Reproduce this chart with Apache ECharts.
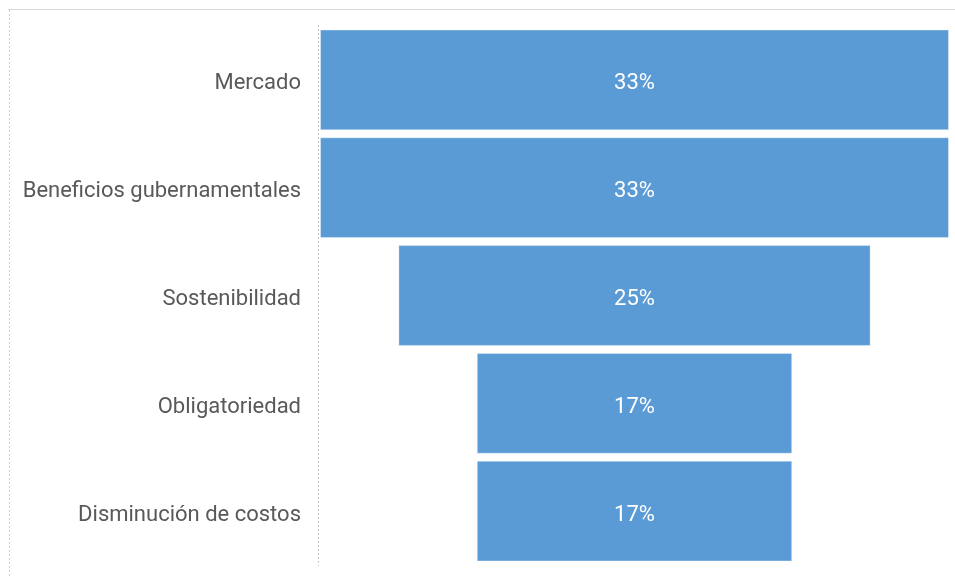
<!DOCTYPE html>
<html>
<head>
<meta charset="utf-8">
<script src="https://cdn.jsdelivr.net/npm/echarts@6/dist/echarts.min.js"></script>
<style>html,body{margin:0;padding:0;background:#fff}#c{width:955px;height:578px}</style>
</head>
<body>
<div id="c"></div>
<script>
const categories = ['Mercado', 'Beneficios gubernamentales', 'Sostenibilidad', 'Obligatoriedad', 'Disminución de costos'];
const values = [33.3, 33.3, 25, 16.7, 16.7];
const maxValue = Math.max(...values);
const offsets = values.map(v => (maxValue - v) / 2);

const chart = echarts.init(document.getElementById('c'), null, {renderer: 'canvas'});
chart.setOption({
  animation: false,
  backgroundColor: '#ffffff',
  grid: {left: 320, right: 6, top: 26, bottom: 13, containLabel: false},
  xAxis: {type: 'value', min: 0, max: maxValue, show: false},
  yAxis: {
    type: 'category', data: categories, inverse: true,
    axisLine: {show: false},
    axisTick: {show: false},
    axisLabel: {
      margin: 19,
      formatter: v => '{a|' + v + '}',
      rich: {a: {color: '#595959', fontSize: 22, fontFamily: 'Roboto', padding: [8, 0, 0, 0]}}
    }
  },
  series: [
    {type: 'bar', stack: 'f', data: offsets, itemStyle: {color: 'transparent'}, silent: true, barCategoryGap: '6.5%'},
    {type: 'bar', stack: 'f', data: values, barCategoryGap: '6.5%',
     itemStyle: {color: '#5B9BD5', borderColor: 'rgba(255,255,255,0.35)', borderWidth: 1},
     label: {show: true, position: 'inside', offset: [0, 4], color: '#ffffff', fontSize: 22, fontFamily: 'Roboto',
             formatter: p => Math.round(p.value) + '%'}}
  ],
  graphic: [
    {type: 'line', shape: {x1: 8, y1: 9.5, x2: 955, y2: 9.5}, style: {stroke: '#d9d9d9', lineWidth: 1}},
    {type: 'line', shape: {x1: 9.5, y1: 10, x2: 9.5, y2: 578}, style: {stroke: '#d0d0d0', lineWidth: 1, lineDash: [2, 2]}},
    {type: 'line', shape: {x1: 318.5, y1: 25, x2: 318.5, y2: 566}, style: {stroke: '#c8c8c8', lineWidth: 1, lineDash: [2, 2]}}
  ]
});
</script>
</body>
</html>
